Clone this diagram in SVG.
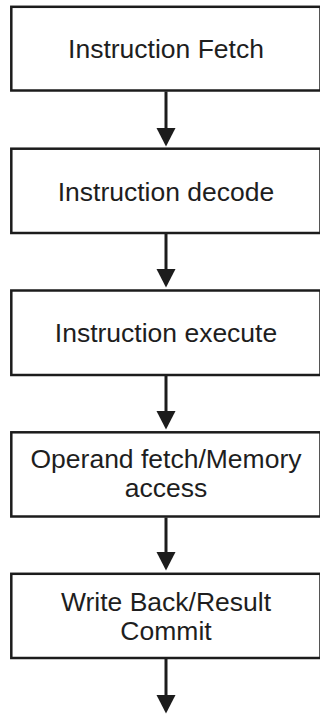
<svg xmlns="http://www.w3.org/2000/svg" width="320" height="714" viewBox="0 0 320 714">
  <style>
    .box { fill: #ffffff; stroke: #1c1c1c; stroke-width: 2.5; }
    .label { font-family: "Liberation Sans", Arial, sans-serif; font-size: 26.5px; fill: #1e1e1e; text-anchor: middle; }
    .edge { stroke: #1c1c1c; stroke-width: 3; fill: none; }
    .head { fill: #1c1c1c; }
  </style>
  <rect width="320" height="714" fill="#ffffff"/>

  <g id="fetch">
    <rect class="box" x="11.3" y="6.8" width="309.2" height="83.7"/>
    <text class="label" x="166" y="58">Instruction Fetch</text>
  </g>

  <g id="decode">
    <rect class="box" x="11.3" y="148.7" width="309.2" height="84.3"/>
    <text class="label" x="166" y="201">Instruction decode</text>
  </g>

  <g id="execute">
    <rect class="box" x="11.3" y="290.5" width="309.2" height="84.5"/>
    <text class="label" x="166" y="342">Instruction execute</text>
  </g>

  <g id="memory">
    <rect class="box" x="11.3" y="432.3" width="309.2" height="84.2"/>
    <text class="label" x="166" y="468">Operand fetch/Memory</text>
    <text class="label" x="166" y="497">access</text>
  </g>

  <g id="writeback">
    <rect class="box" x="11.3" y="573.8" width="309.2" height="84.2"/>
    <text class="label" x="166" y="611">Write Back/Result</text>
    <text class="label" x="166" y="639.5">Commit</text>
  </g>

  <g id="connectors">
    <line class="edge" x1="166" y1="91.5" x2="166" y2="129"/>
    <polygon class="head" points="156.5,128 175.5,128 166,146.5"/>

    <line class="edge" x1="166" y1="234" x2="166" y2="270"/>
    <polygon class="head" points="156.5,269 175.5,269 166,287.5"/>

    <line class="edge" x1="166" y1="376" x2="166" y2="412"/>
    <polygon class="head" points="156.5,411 175.5,411 166,429.5"/>

    <line class="edge" x1="166" y1="517.5" x2="166" y2="553"/>
    <polygon class="head" points="156.5,552 175.5,552 166,570.5"/>

    <line class="edge" x1="166" y1="659" x2="166" y2="696"/>
    <polygon class="head" points="156.5,695 175.5,695 166,713.5"/>
  </g>
</svg>
